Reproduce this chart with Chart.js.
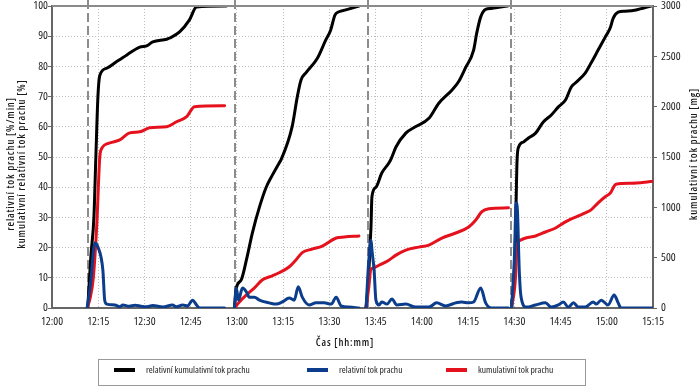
<!DOCTYPE html>
<html>
<head>
<meta charset="utf-8">
<script src="https://cdn.jsdelivr.net/npm/chart.js@4.4.1/dist/chart.umd.min.js"></script>
<style>
  html, body { margin: 0; padding: 0; background: #fff; }
  #wrap { position: relative; width: 700px; height: 386px; overflow: hidden; }
  #legend { position: absolute; left: 98px; top: 359px; width: 488px; height: 27px;
    border: 1px solid #9a9a9a; box-sizing: border-box;
    font-family: 'Open Sans', sans-serif; font-stretch: 75%; font-size: 9.5px; color: #1a1a1a; }
  .li { position: absolute; top: 3px; height: 14px; line-height: 14px; white-space: nowrap; }
  .sw { position: absolute; top: 5px; left: 0; width: 21px; height: 4px; }
  .tx { position: absolute; left: 32px; top: 0; }
</style>
</head>
<body>
<div id="wrap">
  <canvas id="c" width="700" height="386"></canvas>
  <div id="legend"></div>
</div>
<script>
// ---- data (time = minutes after 12:00) ----
const xTickStep = 15;
const changeTimes = [11.6, 59.4, 102.4, 148.8];

const seriesNames = ['relativní kumulativní tok prachu', 'relativní tok prachu', 'kumulativní tok prachu'];
const seriesColors = ['#000000', '#0b3d8c', '#e5121d'];

// relativní kumulativní tok prachu [%]
const blackT = [11.6,12.6,13.6,14.2,14.9,15.5,17.8,21,24.3,28.5,30.7,32.7,37.2,38.2,41.4,44.6,46.9,56.6, null,
  59.2,59.8,61.4,63.1,65,67.3,69.5,71.5,73.7,74.4,77.9,79.6,80.8,82.5,86.1,88.8,90.4,91.8,93.1,95.3,99.6, null,
  101.9,102.5,103.5,103.8,105.1,107,109.3,110,111.6,114.8,117.9,122.3,125.5,129.8,131.9,134.1,136.8,137.8,139.1,140.7,142.6,147.8, null,
  149.1,150.2,150.9,151.4,153,154.6,156.9,159.4,162,164.3,166.6,168.5,169.8,173,174.9,177.2,179.5,181.1,182.1,183.7,185.9,189.5,194.4];
const blackV = [0,17,30,49,70,77,79.4,81.6,83.8,86.4,86.8,88.1,89,89.4,91.4,95.4,99.7,100, null,
  0,6.6,9.3,16,24.8,33.4,40,44,48,49.3,60,70,75.5,78,82.7,88.7,92,97,98.1,98.7,100, null,
  0,7,27,36.8,40,44.7,48,49.3,53.3,57.9,60,62.8,67.8,72.2,74.9,79.4,85.4,91,96.4,98.9,99.2,100, null,
  0,16,49,53.3,55,56.3,57.9,61.6,63.9,66.6,68.9,73.2,74.5,77.8,81.1,85.4,89.7,92.7,96,98,98.3,98.7,100];

// relativní tok prachu [%/min]
const blueT = [11.4,12.5,13.9,14.9,16.5,17.1,17.8,20.4,22,23,25,27,28.8,30.5,32.7,36,39.1,40.4,42.4,44,45.6,46.9,47.9,56, null,
  59.2,59.8,60.5,61.8,63.1,64,65.7,67.3,70.5,72.8,74.7,77,78.6,79.9,81.2,83.4,85.7,88.3,90.6,92.2,93.8,96.4,99.6, null,
  101.9,102.8,103.5,103.8,104.5,105.1,106.1,107,108.7,110.3,111.9,114.8,118,122.3,124.8,127.7,131,132.9,135.2,136.8,139.1,140.7,142.6,148.1, null,
  149.1,150,150.6,151,151.6,152.2,153.9,156.9,160.1,162,164.3,165.9,167.5,169.2,170.8,173,175.6,176.6,178.2,180.4,182.4,183.7,184.6,191.1,195];
const blueV = [0,8,21.5,20.2,12.6,2.6,1.3,1,0.4,1,0.6,0.9,0.6,0.4,0.8,0.3,1,0.4,1,0.7,2.6,1,0,0, null,
  0,6.6,2.6,6.6,5.3,3.6,3.6,2.6,1.7,1.3,2,3.3,2.6,7,3.6,1,1.7,1.7,1.3,3.6,0.7,0.3,0, null,
  0,15.9,22.5,19.2,12.6,2.6,1,2,1.3,3,1,1.3,0.3,0.3,1.7,0.7,1.7,2,1.7,2,6.6,1.7,0,0, null,
  0,16,34.8,32.5,12.6,3.6,0.3,1,1.7,0.3,1,2,0.3,1.7,0.3,0.3,2,1.3,2.6,1,4.3,1.7,0,0,0];

// kumulativní tok prachu [mg]
const redT = [11.4,12.3,13.4,14.5,15.5,15.9,18.8,22,25.2,28.5,31.7,37.2,40.4,43.7,46.2,56, null,
  59.2,60.8,63.1,65.7,68.3,71.5,73.7,77,79.2,81.2,84.4,87.7,92.2,94.8,99.6, null,
  101.9,102.8,103.4,104.1,106.1,109.3,111.6,114.8,119,122.3,126.5,131,135.2,137.5,139.4,141.7,148.1, null,
  149.1,150.4,150.8,152,153.7,156.9,160.1,163.4,166.6,168.5,170.8,173,174.9,177.2,179.5,181.1,183,187.9,192.4,195];
const redV = [0,90,300,810,1500,1570,1640,1670,1740,1750,1790,1800,1850,1900,2000,2010, null,
  0,60,130,200,280,320,350,410,480,550,585,615,695,705,715, null,
  0,210,380,395,425,475,525,575,605,625,695,745,805,875,955,985,995, null,
  0,310,605,675,695,715,755,795,855,885,915,945,975,1045,1105,1140,1230,1240,1250,1260];

const leftTitle = ['relativní tok prachu [%/min]', 'kumulativní relativní tok prachu [%]'];
const rightTitle = 'kumulativní tok prachu [mg]';
const xTitle = 'Čas [hh:mm]';

// ---- build ----
const FONT = "'Open Sans', sans-serif";
const TITLE_FONT = '600 10.5px ' + FONT;
function pts(T, V) { return T.map((t, i) => (t === null ? {x: null, y: null} : {x: t, y: V[i]})); }
function fmt(m) { const h = 12 + Math.floor(m / 60); const mm = Math.round(m % 60); return h + ':' + (mm < 10 ? '0' : '') + mm; }
function noPad(s) { s.paddingTop = 0; s.paddingBottom = 0; s.paddingLeft = 0; s.paddingRight = 0; }

// all canvas text in the condensed width of Open Sans
const cvs = document.getElementById('c');
const c2d = cvs.getContext('2d');
const fontDesc = Object.getOwnPropertyDescriptor(CanvasRenderingContext2D.prototype, 'font');
Object.defineProperty(c2d, 'font', {
  configurable: true,
  get() { return fontDesc.get.call(this); },
  set(v) { fontDesc.set.call(this, v); this.fontStretch = 'condensed'; }
});

function drawTitle(ctx, text, x, y, rot) {
  ctx.save();
  ctx.translate(x, y);
  if (rot) ctx.rotate(rot);
  ctx.font = TITLE_FONT;
  ctx.letterSpacing = '0.85px';
  ctx.fillStyle = '#1a1a1a';
  ctx.textAlign = 'center';
  ctx.textBaseline = 'middle';
  ctx.fillText(text, 0, 0);
  ctx.restore();
}

const extras = {
  id: 'extras',
  beforeDatasetsDraw(chart) {
    const {ctx, chartArea, scales} = chart;
    ctx.save();
    ctx.strokeStyle = '#8c8c8c';
    ctx.lineWidth = 2;
    ctx.setLineDash([9, 4]);
    changeTimes.forEach(t => {
      const x = Math.round(scales.x.getPixelForValue(t));
      ctx.beginPath(); ctx.moveTo(x, 0); ctx.lineTo(x, chartArea.bottom); ctx.stroke();
    });
    ctx.restore();
  },
  afterDraw(chart) {
    const {ctx, chartArea, options} = chart;
    ctx.save();
    ctx.strokeStyle = '#8a8a8a';
    ctx.lineWidth = 2;
    ctx.beginPath(); ctx.moveTo(chartArea.left, chartArea.top); ctx.lineTo(chartArea.right, chartArea.top); ctx.stroke();
    ctx.restore();
    const lt = options.scales.y.title.text;
    drawTitle(ctx, lt[0], 11, 164, -Math.PI / 2);
    drawTitle(ctx, lt[1], 22.5, 164, -Math.PI / 2);
    drawTitle(ctx, options.scales.y1.title.text, 694, 154, -Math.PI / 2);
    drawTitle(ctx, options.scales.x.title.text, 345, 343, 0);
  }
};

const common = { fill: false, pointRadius: 0, borderWidth: 3, cubicInterpolationMode: 'monotone', spanGaps: false, borderJoinStyle: 'round', borderCapStyle: 'round' };
const tickFont = { family: FONT, size: 11.5 };

new Chart(cvs, {
  type: 'line',
  data: {
    datasets: [
      Object.assign({ label: seriesNames[0], data: pts(blackT, blackV), borderColor: seriesColors[0], yAxisID: 'y', order: 3 }, common),
      Object.assign({ label: seriesNames[1], data: pts(blueT, blueV), borderColor: seriesColors[1], yAxisID: 'y', order: 1 }, common),
      Object.assign({ label: seriesNames[2], data: pts(redT, redV), borderColor: seriesColors[2], yAxisID: 'y1', order: 2 }, common)
    ]
  },
  options: {
    responsive: false,
    animation: false,
    layout: { padding: { top: 6, bottom: 28, left: 0, right: 0 } },
    plugins: { legend: { display: false }, tooltip: { enabled: false } },
    scales: {
      x: {
        type: 'linear', min: 0, max: 195,
        afterFit: s => { s.height = 50; noPad(s); },
        ticks: { stepSize: xTickStep, callback: v => fmt(v), font: tickFont, color: '#222', padding: 7, maxRotation: 0 },
        grid: { color: '#bdbdbd', lineWidth: 1, drawTicks: false },
        border: { color: '#666', width: 2, dash: [1, 2] },
        title: { display: false, text: xTitle }
      },
      y: {
        position: 'left', min: 0, max: 100,
        afterFit: s => { s.width = 52; noPad(s); },
        ticks: { stepSize: 10, font: tickFont, color: '#222', padding: 0 },
        grid: { color: '#bdbdbd', lineWidth: 1, tickLength: 4, tickColor: '#666' },
        border: { color: '#666', width: 2, dash: [1, 2] },
        title: { display: false, text: leftTitle }
      },
      y1: {
        position: 'right', min: 0, max: 3000,
        afterFit: s => { s.width = 47; noPad(s); },
        ticks: { stepSize: 500, callback: v => String(v), font: tickFont, color: '#222', padding: 4 },
        grid: { drawOnChartArea: false, tickLength: 4, tickColor: '#666' },
        border: { color: '#666', width: 2 },
        title: { display: false, text: rightTitle }
      }
    }
  },
  plugins: [extras]
});

// HTML legend
const legendX = [15, 208, 347];
const lg = document.getElementById('legend');
seriesNames.forEach((n, i) => {
  const d = document.createElement('div');
  d.className = 'li';
  d.style.left = legendX[i] + 'px';
  d.innerHTML = '<span class="sw" style="background:' + seriesColors[i] + '"></span><span class="tx"></span>';
  d.querySelector('.tx').textContent = n;
  lg.appendChild(d);
});
</script>
</body>
</html>
